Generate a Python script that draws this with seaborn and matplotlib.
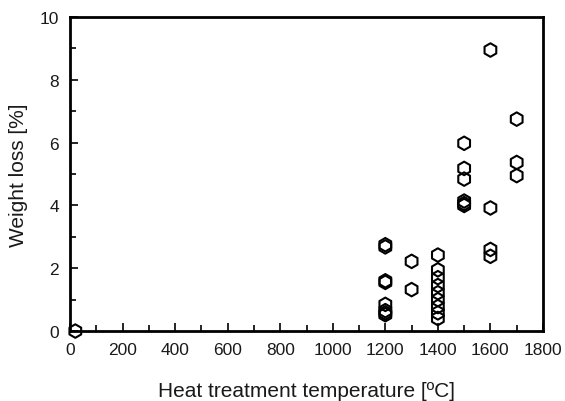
import matplotlib
matplotlib.use('Agg')
import matplotlib.pyplot as plt
from matplotlib.ticker import MultipleLocator
import seaborn as sns
import pandas as pd

sns.set_style("ticks")
plt.rcParams['font.family'] = ['Liberation Sans', 'DejaVu Sans']

# weight loss measurements per heat treatment temperature
temp_c = [20,
          1200, 1200, 1200, 1200, 1200, 1200, 1200, 1200,
          1300, 1300,
          1400, 1400, 1400, 1400, 1400, 1400, 1400, 1400, 1400,
          1500, 1500, 1500, 1500, 1500, 1500,
          1600, 1600, 1600, 1600,
          1700, 1700, 1700]
weight_loss = [0.0,
               2.75, 2.68, 1.6, 1.55, 0.85, 0.65, 0.58, 0.52,
               2.22, 1.32,
               2.42, 1.95, 1.7, 1.45, 1.22, 1.0, 0.78, 0.58, 0.4,
               5.98, 5.18, 4.84, 4.14, 4.06, 4.0,
               8.95, 3.92, 2.6, 2.38,
               6.75, 5.37, 4.95]

df = pd.DataFrame({'temp': temp_c, 'loss': weight_loss})

fig = plt.figure(figsize=(5.65, 4.02), dpi=100)
ax = fig.add_axes([0.124, 0.174, 0.837, 0.781])
sns.scatterplot(data=df, x='temp', y='loss', marker='h', s=95,
                facecolor='none', edgecolor='black', linewidth=1.5, ax=ax,
                clip_on=False, zorder=3)

ax.set_xlim(0, 1800)
ax.set_ylim(0, 10)
ax.xaxis.set_major_locator(MultipleLocator(200))
ax.xaxis.set_minor_locator(MultipleLocator(100))
ax.yaxis.set_major_locator(MultipleLocator(2))
ax.yaxis.set_minor_locator(MultipleLocator(1))
ax.tick_params(which='major', direction='in', length=6, width=1.2,
               labelsize=12.5, pad=8, color='black', labelcolor='#1a1a1a')
ax.tick_params(which='minor', direction='in', length=4, width=1.2, color='black')
for sp in ax.spines.values():
    sp.set_linewidth(2)
    sp.set_color('black')

ax.set_xlabel('Heat treatment temperature [ºC]', fontsize=15, labelpad=17, color='#1a1a1a')
ax.set_ylabel('Weight loss [%]', fontsize=15, labelpad=8, color='#1a1a1a')

fig.savefig('out.png', dpi=100)
